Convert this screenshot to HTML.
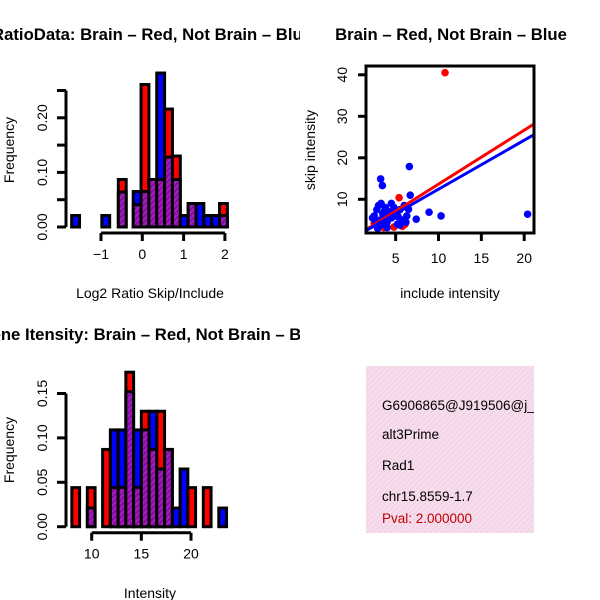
<!DOCTYPE html>
<html><head><meta charset="utf-8"><style>
html,body{margin:0;padding:0;background:#fff;}
svg{display:block;font-family:"Liberation Sans",Arial,sans-serif;}
</style></head><body>
<svg id="fig" width="600" height="600" viewBox="0 0 600 600" xmlns="http://www.w3.org/2000/svg">
<defs>
<pattern id="purp" patternUnits="userSpaceOnUse" width="4" height="4" patternTransform="rotate(45)">
<rect width="4" height="4" fill="#8a0aa0"/><rect width="2" height="4" fill="#a020c0"/>
</pattern>
<pattern id="pink" patternUnits="userSpaceOnUse" width="4" height="4" patternTransform="rotate(45)">
<rect width="4" height="4" fill="#fbd8f4"/><rect width="1" height="4" fill="#e2dccc"/>
</pattern>
<clipPath id="clipL"><rect x="0" y="0" width="300" height="600"/></clipPath>
<clipPath id="clipBox"><rect x="366" y="366" width="168" height="167"/></clipPath>
<clipPath id="clipSc"><rect x="366" y="66" width="168" height="167"/></clipPath>
</defs>
<g id="g1"></g>
<g id="g2"></g>
<g id="g3"></g>
<g id="g4">
<rect x="366" y="366" width="168" height="167" fill="url(#pink)"/>
<g clip-path="url(#clipBox)" font-size="13.5">
<text x="382" y="410">G6906865@J919506@j_</text>
<text x="382" y="439">alt3Prime</text>
<text x="382" y="470">Rad1</text>
<text x="382" y="501">chr15.8559-1.7</text>
<text x="382" y="523" fill="#c00000">Pval: 2.000000</text>
</g></g>
</svg>
<script>
// ---- Chart 1: ratio histogram data ----
const ratioBinLeft = [-1.71,-0.98,-0.58,-0.22,-0.03,0.16,0.35,0.54,0.73,0.92,1.11,1.30,1.49,1.68,1.87];
const ratioBinWidth = 0.19;
const ratioRed  = [0,0,0.087,0.041,0.261,0.087,0.087,0.216,0.13,0,0.043,0,0,0,0.043];
const ratioBlue = [0.021,0.021,0.064,0.065,0.065,0.087,0.282,0.128,0.087,0.021,0.043,0.043,0.021,0.021,0.021];
const ratioXTicks = [-1,0,1,2];
const ratioYTicks = ["0.00","0.10","0.20"];
const ratioYTickVals = [0,0.05,0.10,0.15,0.20,0.25];
// ---- Chart 3: intensity histogram data ----
const intBinLeft = [8.0,9.56,11.1,11.88,12.66,13.44,14.22,15.0,15.78,16.56,17.34,18.12,18.9,19.68,21.24,22.8];
const intBinWidth = 0.78;
const intRed  = [0.044,0.044,0.087,0.044,0.044,0.174,0.044,0.13,0.087,0.13,0.087,0,0,0.044,0.044,0];
const intBlue = [0,0.021,0,0.109,0.109,0.152,0.109,0.109,0.13,0.065,0.087,0.021,0.065,0,0,0.021];
const intXTicks = [10,15,20];
const intYTicks = ["0.00","0.05","0.10","0.15"];
const intYTickVals = [0,0.05,0.10,0.15];
// ---- Chart 2: scatter data ----
const redX = [10.76,5.4,3.6,5.8,2.5,4.8,3.2,6.1];
const redY = [40.5,10.4,3.2,3.5,4.2,3.3,3.8,4.0];
const blueX = [6.6,3.25,3.45,6.7,8.9,10.3,20.4,7.4,6.2,2.5,2.8,3.0,3.2,3.5,3.8,4.0,4.2,4.5,4.8,5.0,5.2,5.5,5.8,6.0,3.0,3.5,4.0,2.7,5.5,6.3,4.5,3.3,5.0,2.3,2.9,4.3,5.3,3.7,6.5];
const blueY = [17.9,14.9,13.3,11.0,6.9,6.0,6.4,5.2,4.5,6.0,7.5,8.5,5.0,6.5,8.0,4.5,7.0,5.5,8.0,6.0,4.0,7.5,5.0,8.5,3.5,4.0,3.2,4.5,3.8,6.0,9.0,9.0,7.0,5.5,3.0,6.2,5.8,7.2,7.6];
const redLine = [1.30,0.65];   // slope, intercept
const blueLine = [1.18,0.63];
const scXTicks = [5,10,15,20];
const scYTicks = [10,20,30,40];

const NS="http://www.w3.org/2000/svg";
function mk(parent,tag,attrs){const e=document.createElementNS(NS,tag);for(const k in attrs)e.setAttribute(k,attrs[k]);parent.appendChild(e);return e;}

function histogram(g,o){
  const sx=v=>o.x0px+(v-o.x0)*o.pxPerX;
  const sy=v=>o.base-(v/0.05)*o.pxPer05;
  if(o.clip)g.setAttribute('clip-path','url(#clipL)');
  o.left.forEach((l,i)=>{
    const x1=sx(l),x2=sx(l+o.w),r=o.red[i],b=o.blue[i],m=Math.min(r,b);
    const hi=Math.max(r,b);
    if(hi<=0)return;
    const top=mk(g,'rect',{x:x1,y:sy(hi),width:x2-x1,height:o.base-sy(hi),fill:r>b?'#ff0000':'#0000ff',stroke:'#000','stroke-width':3});
    
    
    if(m>0){
      const p=mk(g,'rect',{x:x1,y:sy(m),width:x2-x1,height:o.base-sy(m),fill:'url(#purp)',stroke:'#000','stroke-width':3});
      
      
    }
  });
  const yv=o.yTickVals;
  const ya=mk(g,'line',{x1:66,x2:66,y1:sy(yv[yv.length-1]),y2:sy(0),stroke:'#000','stroke-width':3});
  
  
  yv.forEach(v=>mk(g,'line',{x1:57,x2:66,y1:sy(v),y2:sy(v),stroke:'#000','stroke-width':3}));
  o.yLabels.forEach(t=>{
    const y=sy(parseFloat(t));
    const tx=mk(g,'text',{x:0,y:0,transform:`translate(47,${y}) rotate(-90)`,'text-anchor':'middle','font-size':14});
    tx.textContent=t;
    
    
  });
  const xt=o.xTicks, axY=o.base+6;
  const xa=mk(g,'line',{x1:sx(xt[0]),x2:sx(xt[xt.length-1]),y1:axY,y2:axY,stroke:'#000','stroke-width':3});
  
  
  xt.forEach(v=>{
    mk(g,'line',{x1:sx(v),x2:sx(v),y1:axY,y2:axY+8,stroke:'#000','stroke-width':3});
    const tx=mk(g,'text',{x:sx(v),y:axY+26,'text-anchor':'middle','font-size':14});
    tx.textContent=v<0?'\u2212'+(-v):String(v);
    
    
  });
  const yl=mk(g,'text',{x:0,y:0,transform:`translate(14,${o.yTitleY}) rotate(-90)`,'text-anchor':'middle','font-size':14});
  yl.textContent='Frequency';
  
  
  const xl=mk(g,'text',{x:150,y:o.xTitleY,'text-anchor':'middle','font-size':14});
  xl.textContent=o.xTitle;
  
  
  const ti=mk(g,'text',{x:o.titleX,y:o.titleY,'text-anchor':'middle','font-size':16.7,'font-weight':'bold'});
  ti.textContent=o.title;
  
  
}

histogram(document.getElementById('g1'),{x0:0,x0px:142.3,pxPerX:41.3,base:227,pxPer05:27.3,left:ratioBinLeft,w:ratioBinWidth,red:ratioRed,blue:ratioBlue,
  xTicks:ratioXTicks,yLabels:ratioYTicks,yTickVals:ratioYTickVals,yTitleY:150,xTitleY:298,xTitle:'Log2 Ratio Skip/Include',
  titleX:152,titleY:40,title:'RatioData: Brain \u2013 Red, Not Brain \u2013 Blue',clip:true});
histogram(document.getElementById('g3'),{x0:10,x0px:91.7,pxPerX:9.93,base:526.7,pxPer05:44.4,left:intBinLeft,w:intBinWidth,red:intRed,blue:intBlue,
  xTicks:intXTicks,yLabels:intYTicks,yTickVals:intYTickVals,yTitleY:450,xTitleY:598,xTitle:'Intensity',
  titleX:152,titleY:340,title:'Gene Itensity: Brain \u2013 Red, Not Brain \u2013 Blue',clip:true});

(function(){
  const g=document.getElementById('g2');
  const sx=v=>352.8+v*8.57, sy=v=>240.8-v*4.15;
  const pg=mk(g,'g',{'clip-path':'url(#clipSc)'});
  redX.forEach((x,i)=>{const c=mk(pg,'circle',{cx:sx(x),cy:sy(redY[i]),r:3.8,fill:'#ff0000'});
    
    });
  blueX.forEach((x,i)=>{const c=mk(pg,'circle',{cx:sx(x),cy:sy(blueY[i]),r:3.8,fill:'#0000ff'});
    
    });
  [[redLine,'#ff0000','red-fit-line'],[blueLine,'#0000ff','blue-fit-line']].forEach(([L,col,nm])=>{
    const xa=1.4,xb=21.3;
    const ln=mk(pg,'line',{x1:sx(xa),y1:sy(L[0]*xa+L[1]),x2:sx(xb),y2:sy(L[0]*xb+L[1]),stroke:col,'stroke-width':3});
    
    
  });
  const box=mk(g,'rect',{x:366,y:66,width:168,height:167,fill:'none',stroke:'#000','stroke-width':3});
  
  
  scXTicks.forEach(v=>{mk(g,'line',{x1:sx(v),x2:sx(v),y1:233,y2:241,stroke:'#000','stroke-width':3});
    const t=mk(g,'text',{x:sx(v),y:263,'text-anchor':'middle','font-size':14});t.textContent=v;
    
    });
  scYTicks.forEach(v=>{mk(g,'line',{x1:358,x2:366,y1:sy(v),y2:sy(v),stroke:'#000','stroke-width':3});
    const t=mk(g,'text',{x:0,y:0,transform:`translate(347,${sy(v)}) rotate(-90)`,'text-anchor':'middle','font-size':14});t.textContent=v;
    
    });
  const xl=mk(g,'text',{x:450,y:298,'text-anchor':'middle','font-size':14});xl.textContent='include intensity';
  
  
  const yl=mk(g,'text',{x:0,y:0,transform:'translate(315,150) rotate(-90)','text-anchor':'middle','font-size':14});yl.textContent='skip intensity';
  
  
  const ti=mk(g,'text',{x:451,y:40,'text-anchor':'middle','font-size':16.7,'font-weight':'bold'});ti.textContent='Brain \u2013 Red, Not Brain \u2013 Blue';
  
  
})();
</script>
</body></html>
